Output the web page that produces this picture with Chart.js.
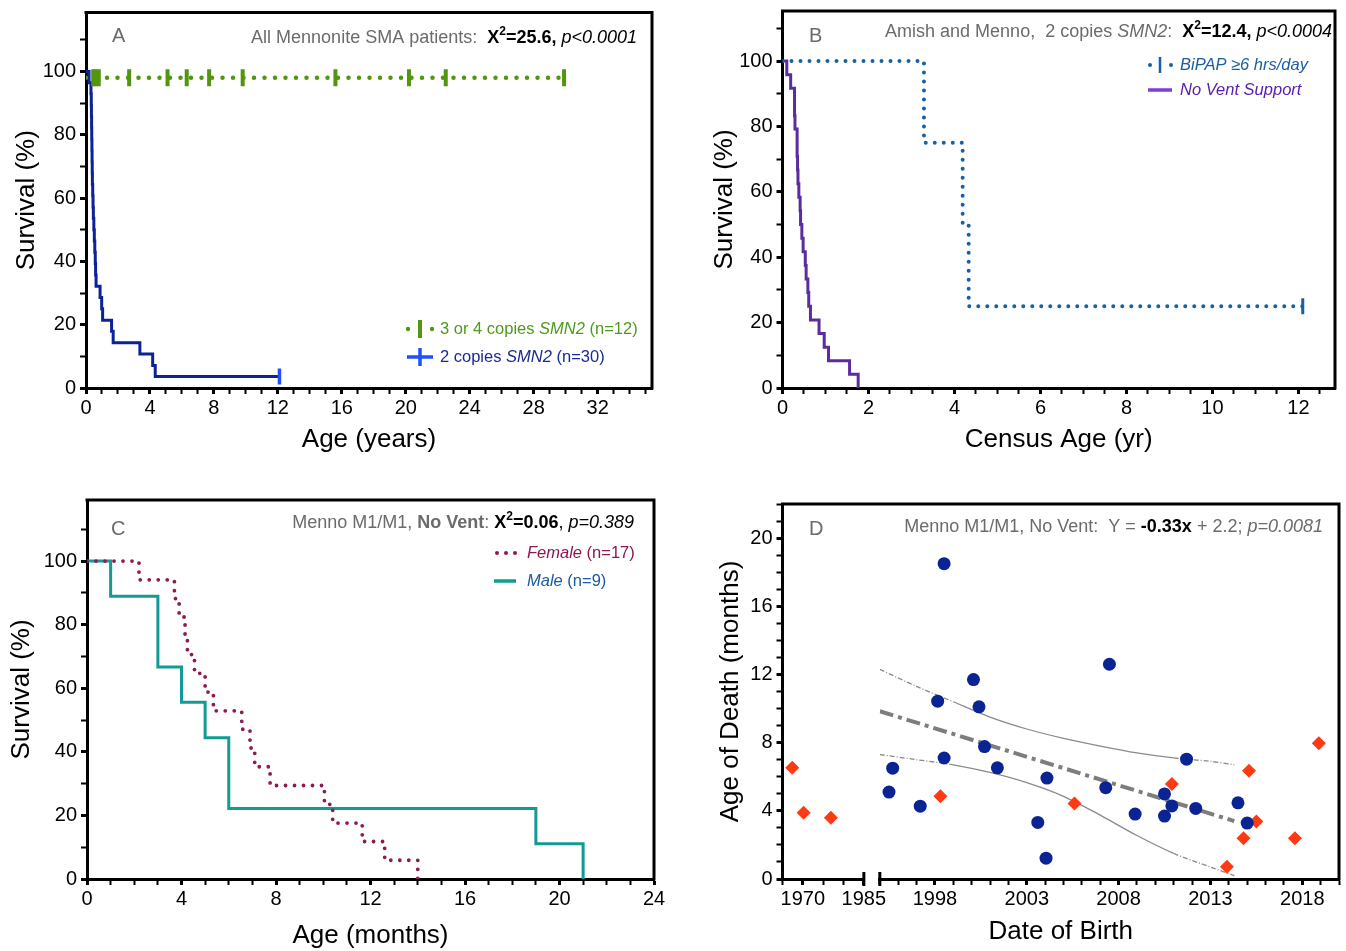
<!DOCTYPE html>
<html>
<head>
<meta charset="utf-8">
<title>SMA survival panels</title>
<script src="https://cdn.jsdelivr.net/npm/chart.js@4.4.1/dist/chart.umd.min.js"></script>
<style>
  body { margin: 0; background: #fff; }
  .panel { position: absolute; }
</style>
</head>
<body>
<div class="panel" style="left:0;top:0"><canvas id="chartA" width="673" height="470"></canvas></div>
<div class="panel" style="left:673px;top:0"><canvas id="chartB" width="673" height="470"></canvas></div>
<div class="panel" style="left:0;top:470px"><canvas id="chartC" width="673" height="481"></canvas></div>
<div class="panel" style="left:673px;top:470px"><canvas id="chartD" width="673" height="481"></canvas></div>
<script>
// Panel A: all Mennonite SMA patients
const aTwoCopyTimes = [0, 0.19, 0.31, 0.33, 0.34, 0.35, 0.36, 0.37, 0.38, 0.39, 0.40, 0.42, 0.44, 0.46, 0.49, 0.52, 0.55, 0.58, 0.60, 0.63, 0.88, 0.98, 1.04, 1.6, 1.7, 3.37, 4.17, 4.33, 12.1];
const aTwoCopySurv = [100, 96.4, 92.9, 89.3, 85.7, 82.1, 78.6, 75, 71.4, 67.9, 64.3, 60.7, 57.1, 53.6, 50, 46.4, 42.9, 39.3, 35.7, 32.1, 28.6, 25, 21.4, 17.9, 14.3, 10.7, 7.1, 3.6, 3.6];
const aTwoCopyCensor = [12.1];
const aMoreCopyCensor = [0.45, 0.6, 0.8, 2.7, 5.1, 6.3, 7.7, 9.8, 15.6, 20.2, 22.5, 29.9];
const aMoreCopyLevel = 98;
const aXLabels = [0, 4, 8, 12, 16, 20, 24, 28, 32];
const aYLabels = [0, 20, 40, 60, 80, 100];

// Panel B: Amish and Menno, 2 copies SMN2
const bBipapTimes = [0, 3.29, 4.19, 4.33, 12.1];
const bBipapSurv = [100, 75, 50, 25, 25];
const bBipapCensor = [12.1];
const bNoVentTimes = [0, 0.1, 0.19, 0.28, 0.28, 0.29, 0.34, 0.34, 0.35, 0.36, 0.38, 0.41, 0.42, 0.45, 0.48, 0.53, 0.55, 0.59, 0.61, 0.65, 0.85, 0.97, 1.07, 1.56, 1.76];
const bNoVentSurv = [100, 95.8, 91.7, 87.5, 83.3, 79.2, 75, 70.8, 66.7, 62.5, 58.3, 54.2, 50, 45.8, 41.7, 37.5, 33.3, 29.2, 25, 20.8, 16.7, 12.5, 8.3, 4.2, 0];
const bXLabels = [0, 2, 4, 6, 8, 10, 12];
const bYLabels = [0, 20, 40, 60, 80, 100];

// Panel C: Menno M1/M1, no vent, by sex
const cFemaleTimes = [0, 2.2, 3.7, 3.9, 4.15, 4.25, 4.55, 5.0, 5.35, 6.55, 6.9, 7.1, 7.75, 10.05, 10.4, 11.65, 12.6, 14.0];
const cFemaleSurv = [100, 94.1, 88.2, 82.4, 76.5, 70.6, 64.7, 58.8, 52.9, 47.1, 41.2, 35.3, 29.4, 23.5, 17.6, 11.8, 5.9, 0];
const cMaleTimes = [0, 1, 3, 4, 5, 6, 19, 21];
const cMaleSurv = [100, 88.9, 66.7, 55.6, 44.4, 22.2, 11.1, 0];
const cXLabels = [0, 4, 8, 12, 16, 20, 24];
const cYLabels = [0, 20, 40, 60, 80, 100];

// Panel D: age of death against date of birth
const dBlueYears = [1995.5, 1995.7, 1997.2, 1998.15, 1998.5, 1998.5, 2000.1, 2000.4, 2000.7, 2001.4, 2003.6, 2004.05, 2004.1, 2007.3, 2007.5, 2008.9, 2010.5, 2010.5, 2010.9, 2011.7, 2012.2, 2014.5, 2015.0];
const dBlueMonths = [5.1, 6.5, 4.27, 10.43, 7.1, 18.5, 11.7, 10.1, 7.77, 6.52, 3.32, 1.22, 5.92, 5.36, 12.6, 3.81, 4.99, 3.69, 4.29, 7.03, 4.14, 4.47, 3.28];
const dRedYears = [1967.4, 1970.2, 1976.9, 1998.3, 2005.6, 2010.9, 2013.9, 2014.8, 2015.1, 2015.5, 2017.6, 2018.9];
const dRedMonths = [6.52, 3.88, 3.59, 4.85, 4.43, 5.57, 0.72, 2.39, 6.35, 3.38, 2.39, 7.96];
const dFitYears = [1995, 2014.3];
const dFitMonths = [9.84, 3.4];
const dBandYears = [1995, 1997, 1999, 2001, 2003, 2005, 2007, 2009, 2011, 2013, 2014.3];
const dBandUpper = [12.3, 11.3, 10.4, 9.5, 8.8, 8.25, 7.8, 7.4, 7.1, 6.9, 6.7];
const dBandLower = [7.3, 7.0, 6.7, 6.25, 5.65, 4.85, 3.75, 2.55, 1.5, 0.7, 0.2];
const dEarlyXLabels = [1970, 1985];
const dLateXLabels = [1998, 2003, 2008, 2013, 2018];
const dYLabels = [0, 4, 8, 12, 16, 20];

const FONT = "'Liberation Sans', Arial, Helvetica, sans-serif";
const GRAY = "#6b6b6b";
const TICK_SIZE = 20, TITLE_SIZE = 26, NOTE_SIZE = 18, LEG_SIZE = 16.5;
Chart.defaults.font.family = FONT;
Chart.defaults.color = "#000";

const f = (size, style) => `${style || ""} ${size}px ${FONT}`.trim();
const pts = (xs, ys) => xs.map((x, i) => ({x, y: ys[i]}));

function zeroPad(s) {
  s.paddingLeft = 0; s.paddingRight = 0; s.paddingTop = 0; s.paddingBottom = 0;
}

function axis(o) {
  const isLabel = v => o.labels.some(l => Math.abs(l - v) < 1e-6);
  return {
    type: "linear", axis: o.axis, position: o.position, min: o.min, max: o.max,
    stack: o.stack, stackWeight: o.stackWeight, weight: 0,
    border: {display: true, color: "#000", width: 3},
    grid: {display: true, drawOnChartArea: false, drawTicks: true, tickLength: 6, tickColor: "#000",
      tickWidth: c => (c.tick && isLabel(c.tick.value)) ? 3 : 2},
    ticks: {stepSize: o.step, autoSkip: false, includeBounds: false, maxRotation: 0, minRotation: 0,
      padding: o.tickPad, color: "#000", font: {size: TICK_SIZE}, callback: v => isLabel(v) ? String(v) : ""},
    title: o.title ? {display: true, text: o.title, color: "#000", font: {size: TITLE_SIZE},
      padding: {top: o.titlePad, bottom: o.titlePad}} : {display: false},
    afterFit: s => {
      if (o.size != null) { if (o.axis === "x") s.height = o.size; else s.width = o.size; }
      zeroPad(s);
    }
  };
}

function kmLine(times, surv, color, extra) {
  return Object.assign({data: pts(times, surv), showLine: true, stepped: true, pointRadius: 0,
    borderColor: color, borderWidth: 3, fill: false}, extra || {});
}

function censor(times, level, color, width, half) {
  return {data: times.map(t => ({x: t, y: level})), showLine: false, pointStyle: "line", pointRotation: 90,
    pointRadius: half, pointBorderColor: color, pointBackgroundColor: color, pointBorderWidth: width};
}

function runs(ctx, x, y, parts, align) {
  let w = 0;
  parts.forEach(p => { ctx.font = p[1]; w += ctx.measureText(p[0]).width; });
  let cx = align === "right" ? x - w : x;
  ctx.textBaseline = "middle";
  ctx.textAlign = "left";
  parts.forEach(p => {
    ctx.font = p[1];
    ctx.fillStyle = p[2];
    ctx.fillText(p[0], cx, y + (p[3] || 0));
    cx += ctx.measureText(p[0]).width;
  });
}

function line(ctx, x1, y1, x2, y2, color, width, dash) {
  ctx.save();
  ctx.strokeStyle = color;
  ctx.lineWidth = width;
  ctx.lineCap = dash ? "round" : "butt";
  ctx.setLineDash(dash || []);
  ctx.beginPath();
  ctx.moveTo(x1, y1);
  ctx.lineTo(x2, y2);
  ctx.stroke();
  ctx.restore();
}

function dot(ctx, x, y, r, color) {
  ctx.fillStyle = color;
  ctx.beginPath();
  ctx.arc(x, y, r, 0, Math.PI * 2);
  ctx.fill();
}

const framePlugin = {
  id: "frame",
  afterDatasetsDraw(chart) {
    const a = chart.chartArea;
    const ctx = chart.ctx;
    ctx.save();
    ctx.strokeStyle = "#000";
    ctx.lineWidth = 3;
    ctx.beginPath();
    ctx.moveTo(a.left - 1.5, a.top);
    ctx.lineTo(a.right, a.top);
    ctx.lineTo(a.right, a.bottom + 1.5);
    ctx.stroke();
    ctx.restore();
  }
};

function makeChart(id, datasets, scales, padding, draw) {
  return new Chart(document.getElementById(id), {
    type: "scatter",
    data: {datasets},
    options: {
      responsive: false,
      animation: false,
      events: [],
      layout: {padding},
      plugins: {legend: {display: false}, tooltip: {enabled: false}},
      scales
    },
    plugins: [framePlugin, {id: "notes", afterDraw: chart => { chart.ctx.save(); draw(chart.ctx, chart); chart.ctx.restore(); }}]
  });
}

// ---------- A ----------
const GREEN = "#52960f", NAVY = "#0d2297", BRIGHT = "#1f4fff";
makeChart("chartA", [
  censor(aMoreCopyCensor, aMoreCopyLevel, GREEN, 4, 8.5),
  censor(aTwoCopyCensor, aTwoCopySurv[aTwoCopySurv.length - 1], BRIGHT, 3.5, 8),
  {data: [{x: 0, y: aMoreCopyLevel}, {x: aMoreCopyCensor[aMoreCopyCensor.length - 1], y: aMoreCopyLevel}],
    showLine: true, pointRadius: 0, borderColor: GREEN, borderWidth: 4.5, borderDash: [0, 10.5], borderCapStyle: "round"},
  kmLine(aTwoCopyTimes, aTwoCopySurv, NAVY)
], {
  x: axis({axis: "x", position: "bottom", min: 0, max: 35.4, step: 1, labels: aXLabels, tickPad: 2,
    title: "Age (years)", titlePad: 15, size: 82}),
  y: axis({axis: "y", position: "left", min: 0, max: 118.6, step: 10, labels: aYLabels, tickPad: 4,
    title: "Survival (%)", titlePad: 11, size: 86})
}, {left: 0, top: 11, right: 21, bottom: 0}, ctx => {
  runs(ctx, 112, 36, [["A", f(20), GRAY]]);
  runs(ctx, 637, 38, [["All Mennonite SMA patients:  ", f(NOTE_SIZE), GRAY], ["X", f(NOTE_SIZE, "bold"), "#000"],
    ["2", f(12, "bold"), "#000", -6], ["=25.6, ", f(NOTE_SIZE, "bold"), "#000"], ["p<0.0001", f(NOTE_SIZE, "italic"), "#000"]], "right");
  dot(ctx, 408, 329, 2.2, GREEN);
  dot(ctx, 432, 329, 2.2, GREEN);
  line(ctx, 420, 320, 420, 338, GREEN, 4);
  runs(ctx, 440, 329, [["3 or 4 copies ", f(LEG_SIZE), "#4e9a1c"], ["SMN2", f(LEG_SIZE, "italic"), "#4e9a1c"], [" (n=12)", f(LEG_SIZE), "#4e9a1c"]]);
  line(ctx, 407, 357, 433, 357, BRIGHT, 3.5);
  line(ctx, 420, 348, 420, 366, BRIGHT, 3.5);
  runs(ctx, 440, 357, [["2 copies ", f(LEG_SIZE), "#1a2a90"], ["SMN2", f(LEG_SIZE, "italic"), "#1a2a90"], [" (n=30)", f(LEG_SIZE), "#1a2a90"]]);
});

// ---------- B ----------
const STEEL = "#1561a6", PURPLE = "#5b2ca0";
makeChart("chartB", [
  censor(bBipapCensor, bBipapSurv[bBipapSurv.length - 1], STEEL, 3, 8),
  kmLine(bBipapTimes, bBipapSurv, STEEL, {borderWidth: 4, borderDash: [0, 9], borderCapStyle: "round"}),
  kmLine(bNoVentTimes, bNoVentSurv, PURPLE)
], {
  x: axis({axis: "x", position: "bottom", min: 0, max: 12.85, step: 0.5, labels: bXLabels, tickPad: 2,
    title: "Census Age (yr)", titlePad: 15, size: 82}),
  y: axis({axis: "y", position: "left", min: 0, max: 115.3, step: 10, labels: bYLabels, tickPad: 4,
    title: "Survival (%)", titlePad: 36, size: 109.5})
}, {left: 0, top: 11, right: 6, bottom: 0}, ctx => {
  runs(ctx, 136, 36, [["B", f(20), GRAY]]);
  runs(ctx, 659, 32, [["Amish and Menno,  2 copies ", f(NOTE_SIZE), GRAY], ["SMN2", f(NOTE_SIZE, "italic"), GRAY], [":  ", f(NOTE_SIZE), GRAY],
    ["X", f(NOTE_SIZE, "bold"), "#000"], ["2", f(12, "bold"), "#000", -6], ["=12.4, ", f(NOTE_SIZE, "bold"), "#000"],
    ["p<0.0004", f(NOTE_SIZE, "italic"), "#000"]], "right");
  dot(ctx, 477, 65, 2, STEEL);
  dot(ctx, 498, 65, 2, STEEL);
  line(ctx, 487, 57, 487, 73, STEEL, 2.5);
  runs(ctx, 507, 65, [["BiPAP \u22656 hrs/day", f(LEG_SIZE, "italic"), "#1a5fa0"]]);
  line(ctx, 475, 90, 499, 90, "#7a3fd0", 3.5);
  runs(ctx, 507, 90, [["No Vent Support", f(LEG_SIZE, "italic"), "#5a20a8"]]);
});

// ---------- C ----------
const MAROON = "#8e1a52", TEAL = "#129a94";
makeChart("chartC", [
  kmLine(cFemaleTimes, cFemaleSurv, MAROON, {borderWidth: 3.8, borderDash: [0, 9], borderCapStyle: "round"}),
  kmLine(cMaleTimes, cMaleSurv, TEAL)
], {
  x: axis({axis: "x", position: "bottom", min: 0, max: 24, step: 1, labels: cXLabels, tickPad: 2,
    title: "Age (months)", titlePad: 0, size: 72}),
  y: axis({axis: "y", position: "left", min: 0, max: 119.2, step: 10, labels: cYLabels, tickPad: 4,
    title: "Survival (%)", titlePad: 6, size: 87})
}, {left: 0, top: 30, right: 19, bottom: 0}, ctx => {
  runs(ctx, 111, 59, [["C", f(20), GRAY]]);
  runs(ctx, 634, 53, [["Menno M1/M1, ", f(NOTE_SIZE), GRAY], ["No Vent", f(NOTE_SIZE, "bold"), GRAY], [": ", f(NOTE_SIZE), GRAY],
    ["X", f(NOTE_SIZE, "bold"), "#000"], ["2", f(12, "bold"), "#000", -6], ["=0.06", f(NOTE_SIZE, "bold"), "#000"],
    [", ", f(NOTE_SIZE), "#000"], ["p=0.389", f(NOTE_SIZE, "italic"), "#000"]], "right");
  dot(ctx, 497, 83, 2, MAROON);
  dot(ctx, 506, 83, 2, MAROON);
  dot(ctx, 515, 83, 2, MAROON);
  runs(ctx, 527, 83, [["Female", f(LEG_SIZE, "italic"), "#8a1a52"], [" (n=17)", f(LEG_SIZE), "#8a1a52"]]);
  line(ctx, 494, 111, 516, 111, TEAL, 3.5);
  runs(ctx, 527, 111, [["Male", f(LEG_SIZE, "italic"), "#1a5aa6"], [" (n=9)", f(LEG_SIZE), "#1a5aa6"]]);
});

// ---------- D ----------
const DBLUE = "#0b2493", DRED = "#ff3a12";
const early = dRedYears.map((y, i) => i).filter(i => dRedYears[i] < 1990);
const late = dRedYears.map((y, i) => i).filter(i => dRedYears[i] >= 1990);
const bandDash = c => (c.p0DataIndex < 2 || c.p0DataIndex >= dBandYears.length - 3) ? [5, 2, 1, 2] : undefined;
makeChart("chartD", [
  {xAxisID: "xr", data: pts(dBlueYears, dBlueMonths), pointStyle: "circle", pointRadius: 6.5,
    pointBackgroundColor: DBLUE, pointBorderColor: DBLUE, pointBorderWidth: 0},
  {xAxisID: "xr", data: late.map(i => ({x: dRedYears[i], y: dRedMonths[i]})), pointStyle: "rectRot", pointRadius: 7,
    pointBackgroundColor: DRED, pointBorderColor: DRED, pointBorderWidth: 0},
  {xAxisID: "xl", data: early.map(i => ({x: dRedYears[i], y: dRedMonths[i]})), pointStyle: "rectRot", pointRadius: 7,
    pointBackgroundColor: DRED, pointBorderColor: DRED, pointBorderWidth: 0},
  {xAxisID: "xr", data: pts(dFitYears, dFitMonths), showLine: true, pointRadius: 0, borderColor: "#7d7d7d",
    borderWidth: 4, borderDash: [14, 5, 4, 5]},
  {xAxisID: "xr", data: pts(dBandYears, dBandUpper), showLine: true, pointRadius: 0, borderColor: "#8a8a8a",
    borderWidth: 1.3, tension: 0.3, segment: {borderDash: bandDash}},
  {xAxisID: "xr", data: pts(dBandYears, dBandLower), showLine: true, pointRadius: 0, borderColor: "#8a8a8a",
    borderWidth: 1.3, tension: 0.3, segment: {borderDash: bandDash}}
], {
  xl: axis({axis: "x", position: "bottom", stack: "dob", stackWeight: 81.5, min: 1965, max: 1985, step: 5,
    labels: dEarlyXLabels, tickPad: 2, size: 40}),
  xg: {type: "linear", axis: "x", position: "bottom", stack: "dob", stackWeight: 16, min: 0, max: 1, weight: 0,
    border: {display: false}, grid: {display: false}, ticks: {display: false},
    afterFit: s => { s.height = 40; zeroPad(s); }},
  xr: axis({axis: "x", position: "bottom", stack: "dob", stackWeight: 460, min: 1995, max: 2020, step: 1,
    labels: dLateXLabels, tickPad: 2, size: 40}),
  xt: {type: "linear", axis: "x", position: "bottom", weight: 1, min: 0, max: 1,
    border: {display: false}, grid: {display: false}, ticks: {display: false},
    title: {display: true, text: "Date of Birth", color: "#000", font: {size: TITLE_SIZE}, padding: {top: 0, bottom: 4}},
    afterFit: s => { s.height = 32; zeroPad(s); }},
  y: axis({axis: "y", position: "left", min: 0, max: 22, step: 1, labels: dYLabels, tickPad: 4,
    title: "Age of Death (months)", titlePad: 42, size: 109.5})
}, {left: 0, top: 34, right: 6, bottom: 0}, (ctx, chart) => {
  runs(ctx, 136, 59, [["D", f(20), GRAY]]);
  runs(ctx, 650, 57, [["Menno M1/M1, No Vent:  Y = ", f(NOTE_SIZE), GRAY], ["-0.33x", f(NOTE_SIZE, "bold"), "#000"],
    [" + 2.2; ", f(NOTE_SIZE), GRAY], ["p=0.0081", f(NOTE_SIZE, "italic"), GRAY]], "right");
  const yb = chart.scales.y.bottom;
  line(ctx, chart.scales.xl.right, yb - 7, chart.scales.xl.right, yb + 7, "#000", 3);
  line(ctx, chart.scales.xr.left, yb - 7, chart.scales.xr.left, yb + 7, "#000", 3);
});
</script>
</body>
</html>
